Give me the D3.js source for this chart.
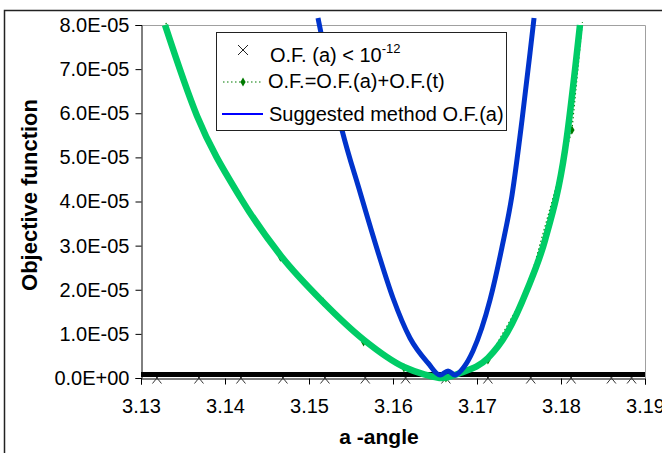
<!DOCTYPE html>
<html>
<head>
<meta charset="utf-8">
<script src="https://cdn.jsdelivr.net/npm/d3@7"></script>
<style>
  html, body { margin: 0; padding: 0; background: #fff; }
  svg { display: block; }
  text { font-family: "Liberation Sans", Arial, sans-serif; fill: #000; }
</style>
</head>
<body>
<svg id="chart" width="662" height="453"></svg>
<script>
// Axis ticks
const xTicks = [3.13, 3.14, 3.15, 3.16, 3.17, 3.18, 3.19];
const yTicks = [0, 1e-5, 2e-5, 3e-5, 4e-5, 5e-5, 6e-5, 7e-5, 8e-5];

// Series "O.F. (a) < 10^-12": angles where the angle objective is below 1e-12
const lowA  = [3.1319, 3.1369, 3.1419, 3.1469, 3.1519, 3.1567, 3.1615, 3.1663, 3.1713, 3.1764, 3.1812, 3.1860, 3.1884];
const lowOF = [0, 0, 0, 0, 0, 0, 0, 0, 0, 0, 0, 0, 0];

// Series "O.F.=O.F.(a)+O.F.(t)": sampled total objective
const totalA  = [3.1319, 3.1367, 3.1418, 3.1466, 3.1517, 3.1565, 3.1613, 3.1663, 3.1713, 3.1760, 3.1813, 3.1861];
const totalOF = [8.65e-5, 5.94e-5, 4.10e-5, 2.74e-5, 1.72e-5, 0.82e-5, 0.23e-5, 0.0, 0.41e-5, 2.0e-5, 5.62e-5, 15.0e-5];

// Smooth curve through the total objective
const fitA  = [3.13286, 3.13667, 3.14179, 3.14667, 3.15167, 3.15655, 3.16131, 3.16381, 3.16583,
               3.16798, 3.17131, 3.17357, 3.17595, 3.17810, 3.18048, 3.18226];
const fitOF = [8.00e-5, 5.94e-5, 4.10e-5, 2.765e-5, 1.722e-5, 0.861e-5, 0.249e-5, 0.079e-5, 0.0,
               0.113e-5, 0.453e-5, 1.020e-5, 1.994e-5, 3.127e-5, 5.167e-5, 8.00e-5];

// Series "Suggested method O.F.(a)"
const suggA  = [3.15107, 3.15393, 3.15607, 3.15821, 3.16000, 3.16202, 3.16417, 3.16560, 3.16655, 3.16738,
                3.16845, 3.16952, 3.17155, 3.17298, 3.17417, 3.17536, 3.17631, 3.17679];
const suggOF = [8.159e-5, 5.620e-5, 4.215e-5, 2.856e-5, 1.813e-5, 0.907e-5, 0.340e-5, 0.068e-5, 0.159e-5, 0.068e-5,
                0.249e-5, 0.612e-5, 1.768e-5, 2.969e-5, 4.147e-5, 5.847e-5, 7.365e-5, 8.159e-5];

const legendLabels = ["O.F. (a) < 10", "O.F.=O.F.(a)+O.F.(t)", "Suggested method O.F.(a)"];

const svg = d3.select("#chart");
const plot = { left: 141, right: 645, top: 25, bottom: 378 };
const FONT = "Liberation Sans, Arial, sans-serif";

const x = d3.scaleLinear().domain([3.13, 3.19]).range([plot.left, plot.right]);
const y = d3.scaleLinear().domain([0, 8e-5]).range([plot.bottom, plot.top]);

function sci(v) {
  if (v === 0) return "0.0E+00";
  const e = Math.floor(Math.log10(Math.abs(v)) + 1e-9);
  const m = v / Math.pow(10, e);
  const sign = e < 0 ? "-" : "+";
  return m.toFixed(1) + "E" + sign + String(Math.abs(e)).padStart(2, "0");
}

// Chart frame
svg.append("rect")
  .attr("x", 4.5).attr("y", 10.5).attr("width", 700).attr("height", 500)
  .attr("fill", "#fff").attr("stroke", "#222").attr("stroke-width", 1.5);

// Plot area border (top and right)
svg.append("path")
  .attr("d", `M${plot.left},${plot.top + 0.5}H${plot.right + 0.5}V${plot.bottom}`)
  .attr("fill", "none").attr("stroke", "#a0a0a0").attr("stroke-width", 1);

// Y axis
const yAxis = d3.axisLeft(y).tickValues(yTicks).tickFormat(sci).tickSize(6).tickPadding(6);
const gy = svg.append("g").attr("transform", `translate(${plot.left + 0.5},0)`).call(yAxis);
gy.select(".domain").attr("stroke", "#000");
gy.selectAll(".tick line").attr("stroke", "#000");
gy.selectAll(".tick text").attr("font-size", 20).attr("font-family", FONT);

// X axis
const xAxis = d3.axisBottom(x).tickValues(xTicks).tickFormat(d3.format(".2f")).tickSize(6).tickPadding(14);
const gx = svg.append("g").attr("transform", `translate(0,${plot.bottom + 0.5})`).call(xAxis);
gx.select(".domain").attr("stroke", "#000");
gx.selectAll(".tick line").attr("stroke", "#000");
gx.selectAll(".tick text").attr("font-size", 20).attr("font-family", FONT);

// Axis titles
svg.append("text")
  .attr("x", 379).attr("y", 444)
  .attr("text-anchor", "middle").attr("font-size", 21).attr("font-weight", "bold")
  .text("a -angle");
svg.append("text")
  .attr("transform", "translate(37,195) rotate(-90)")
  .attr("text-anchor", "middle").attr("font-size", 22).attr("font-weight", "bold")
  .text("Objective function");

// Cross markers for the "O.F. (a) < 10^-12" series
const crossPath = "M-4.5,-5.5L4.5,5.5M-4.5,5.5L4.5,-5.5";
svg.append("g").selectAll("path")
  .data(d3.zip(lowA, lowOF))
  .join("path")
  .attr("transform", d => `translate(${x(d[0])},${y(d[1])})`)
  .attr("d", crossPath)
  .attr("fill", "none").attr("stroke", "#333").attr("stroke-width", 1);

// Heavy baseline along zero
svg.append("line")
  .attr("x1", x(3.13)).attr("x2", x(3.19))
  .attr("y1", y(0) - 3.5).attr("y2", y(0) - 3.5)
  .attr("stroke", "#000").attr("stroke-width", 5);

// Clip for series that run past the top of the plot
svg.append("clipPath").attr("id", "clip")
  .append("rect").attr("x", plot.left).attr("y", plot.top - 3)
  .attr("width", plot.right - plot.left).attr("height", plot.bottom - plot.top + 10);

const totalPts = d3.zip(totalA, totalOF);
const gTotal = svg.append("g").attr("clip-path", "url(#clip)");
gTotal.append("path")
  .attr("d", d3.line().x(d => x(d[0])).y(d => y(d[1]))(totalPts))
  .attr("fill", "none").attr("stroke", "#007a00").attr("stroke-width", 1.2)
  .attr("stroke-dasharray", "1.5,2.5");
const diamond = d3.symbol().type(d3.symbolDiamond).size(24);
gTotal.selectAll("path.pt")
  .data(totalPts)
  .join("path").attr("class", "pt")
  .attr("transform", d => `translate(${x(d[0])},${y(d[1])})`)
  .attr("d", diamond())
  .attr("fill", "#007a00");

// Smooth curves
const smooth = d3.line().curve(d3.curveMonotoneX).x(d => x(d[0])).y(d => y(d[1]));
svg.append("path")
  .attr("d", smooth(d3.zip(fitA, fitOF)))
  .attr("fill", "none").attr("stroke", "#00cc66").attr("stroke-width", 6.5)
  .attr("stroke-linejoin", "round");

svg.append("path")
  .attr("d", smooth(d3.zip(suggA, suggOF)))
  .attr("fill", "none").attr("stroke", "#0033cc").attr("stroke-width", 5)
  .attr("stroke-linejoin", "round");

// Legend
const lg = svg.append("g");
lg.append("rect")
  .attr("x", 216.5).attr("y", 32.5).attr("width", 290).attr("height", 98)
  .attr("fill", "#fff").attr("stroke", "#222").attr("stroke-width", 1);

lg.append("path")
  .attr("transform", "translate(243,50)")
  .attr("d", "M-5,-5L5,5M-5,5L5,-5")
  .attr("fill", "none").attr("stroke", "#222").attr("stroke-width", 1);
const t1 = lg.append("text").attr("x", 270).attr("y", 62).attr("font-size", 20).text(legendLabels[0]);
t1.append("tspan").attr("dy", -9).attr("font-size", 13).text("-12");

lg.append("line")
  .attr("x1", 223).attr("x2", 262).attr("y1", 82).attr("y2", 82)
  .attr("stroke", "#007a00").attr("stroke-width", 1.2).attr("stroke-dasharray", "1.5,2.5");
lg.append("path")
  .attr("transform", "translate(243,82)")
  .attr("d", diamond())
  .attr("fill", "#007a00");
lg.append("text").attr("x", 268).attr("y", 88).attr("font-size", 20).text(legendLabels[1]);

lg.append("line")
  .attr("x1", 222).attr("x2", 263).attr("y1", 114).attr("y2", 114)
  .attr("stroke", "#0000ff").attr("stroke-width", 2);
lg.append("text").attr("x", 269).attr("y", 121).attr("font-size", 20).text(legendLabels[2]);
</script>
</body>
</html>
